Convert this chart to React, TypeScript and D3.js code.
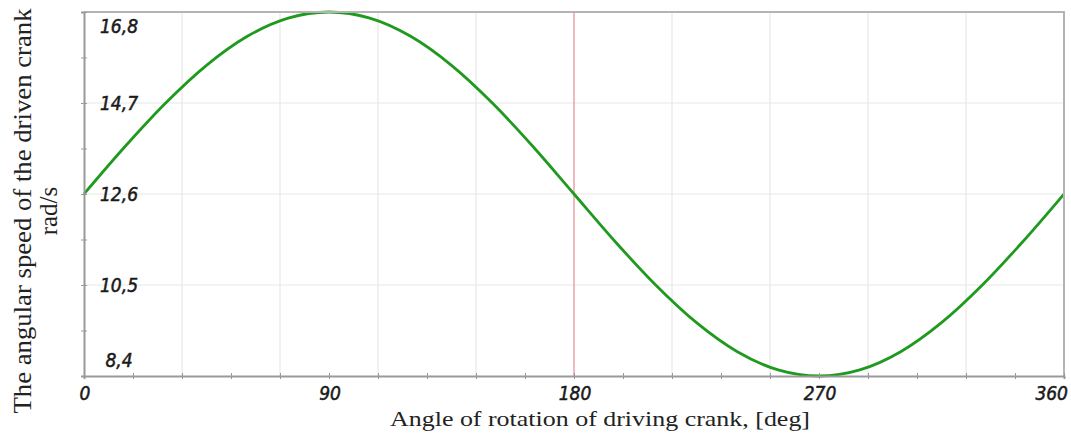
import * as d3 from "d3";
import { useEffect, useRef } from "react";

// angle of the driving crank, deg
const angles = [0, 15, 30, 45, 60, 75, 90, 105, 120, 135, 150, 165, 180, 195, 210, 225, 240, 255, 270, 285, 300, 315, 330, 345, 360];
// angular speed of the driven crank, rad/s
const speeds = [12.6, 13.69, 14.7, 15.57, 16.24, 16.66, 16.8, 16.66, 16.24, 15.57, 14.7, 13.69, 12.6, 11.51, 10.5, 9.63, 8.96, 8.54, 8.4, 8.54, 8.96, 9.63, 10.5, 11.51, 12.6];

const xTickLabels = [0, 90, 180, 270, 360];
const yTickLabels = [8.4, 10.5, 12.6, 14.7, 16.8];
const xGrid = [36, 72, 108, 144, 216, 252, 288, 324];
const yGrid = [10.5, 12.6, 14.7];
const markerAngle = 180;

const App = () => {
  const ref = useRef<SVGSVGElement>(null);

  useEffect(() => {
    document.body.style.margin = "0";
    const W = 1071, H = 435;
    const left = 84, right = 1064, top = 12, bottom = 376;

    const svg = d3.select(ref.current);
    svg.selectAll("*").remove();
    svg.append("rect").attr("width", W).attr("height", H).attr("fill", "#fff");

    const x = d3.scaleLinear().domain([0, 360]).range([left, right]);
    const y = d3.scaleLinear().domain([8.4, 16.8]).range([bottom, top]);

    // grid
    svg.append("g")
      .selectAll("line")
      .data(xGrid)
      .join("line")
      .attr("x1", (d) => x(d)).attr("x2", (d) => x(d))
      .attr("y1", top).attr("y2", bottom)
      .attr("stroke", "#e8e8e8").attr("stroke-width", 1.2);
    svg.append("g")
      .selectAll("line")
      .data(yGrid)
      .join("line")
      .attr("x1", left).attr("x2", right)
      .attr("y1", (d) => y(d)).attr("y2", (d) => y(d))
      .attr("stroke", "#e8e8e8").attr("stroke-width", 1.2);

    // marker at 180
    svg.append("line")
      .attr("x1", x(markerAngle)).attr("x2", x(markerAngle))
      .attr("y1", top).attr("y2", bottom)
      .attr("stroke", "#e38a94").attr("stroke-width", 1.2);

    // curve
    const line = d3.line<number>()
      .x((_, i) => x(angles[i]))
      .y((d) => y(d))
      .curve(d3.curveMonotoneX);
    svg.append("path")
      .datum(speeds)
      .attr("d", line)
      .attr("fill", "none")
      .attr("stroke", "#1f9a1f")
      .attr("stroke-width", 2.8);

    // frame
    svg.append("path")
      .attr("d", `M${left},${top}H${right}V${bottom}`)
      .attr("fill", "none")
      .attr("stroke", "#b4b4b4")
      .attr("stroke-width", 2);

    // axes with ticks
    const xAxis = svg.append("g")
      .attr("transform", `translate(0,${bottom})`)
      .call(d3.axisBottom(x).tickValues(d3.range(0, 361, 18)).tickSize(3).tickFormat(() => ""));
    xAxis.select(".domain").attr("stroke", "#999").attr("stroke-width", 2);
    xAxis.selectAll(".tick line").attr("stroke", "#999").attr("y1", -3);

    const yAxis = svg.append("g")
      .attr("transform", `translate(${left},0)`)
      .call(d3.axisLeft(y).tickValues(d3.range(8.4, 16.81, 1.05)).tickSize(3).tickFormat(() => ""));
    yAxis.select(".domain").attr("stroke", "#999").attr("stroke-width", 2);
    yAxis.selectAll(".tick line").attr("stroke", "#999").attr("x1", 3).attr("x2", -3);

    const tickFont = "'DejaVu Sans Condensed', 'DejaVu Sans', sans-serif";

    // x tick labels
    svg.append("g")
      .selectAll("text")
      .data(xTickLabels)
      .join("text")
      .attr("x", (d) => (d === 360 ? x(d) + 4 : x(d) + 1))
      .attr("y", 400)
      .attr("text-anchor", (d) => (d === 360 ? "end" : "middle"))
      .attr("font-family", tickFont)
      .attr("font-style", "italic")
      .attr("font-size", 19)
      .attr("fill", "#1a1a1a")
      .attr("stroke", "#1a1a1a")
      .attr("stroke-width", 0.5)
      .text((d) => String(d));

    // y tick labels
    svg.append("g")
      .selectAll("text")
      .data(yTickLabels)
      .join("text")
      .attr("x", 119)
      .attr("y", (d) => (d === 16.8 ? 33 : d === 8.4 ? 367 : y(d) + 7))
      .attr("text-anchor", "middle")
      .attr("font-family", tickFont)
      .attr("font-style", "italic")
      .attr("font-size", 19)
      .attr("fill", "#1a1a1a")
      .attr("stroke", "#1a1a1a")
      .attr("stroke-width", 0.5)
      .text((d) => d.toFixed(1).replace(".", ","));

    const titleFont = "'Liberation Serif', 'Times New Roman', serif";
    svg.append("text")
      .attr("x", 600)
      .attr("y", 426)
      .attr("text-anchor", "middle")
      .attr("font-family", titleFont)
      .attr("font-size", 21)
      .attr("textLength", 420)
      .attr("lengthAdjust", "spacingAndGlyphs")
      .attr("fill", "#222")
      .text("Angle of rotation of driving crank, [deg]");

    const yTitle = svg.append("g").attr("transform", "translate(31,211) rotate(-90)");
    yTitle.append("text")
      .attr("x", 0).attr("y", 0)
      .attr("text-anchor", "middle")
      .attr("font-family", titleFont)
      .attr("font-size", 25)
      .attr("textLength", 405)
      .attr("lengthAdjust", "spacingAndGlyphs")
      .attr("fill", "#222")
      .text("The angular speed of the driven crank");
    yTitle.append("text")
      .attr("x", 0).attr("y", 26)
      .attr("text-anchor", "middle")
      .attr("font-family", titleFont)
      .attr("font-size", 25)
      .attr("fill", "#222")
      .text("rad/s");
  }, []);

  return <svg width={1071} height={435} ref={ref} style={{ display: "block" }} />;
};

export default App;
